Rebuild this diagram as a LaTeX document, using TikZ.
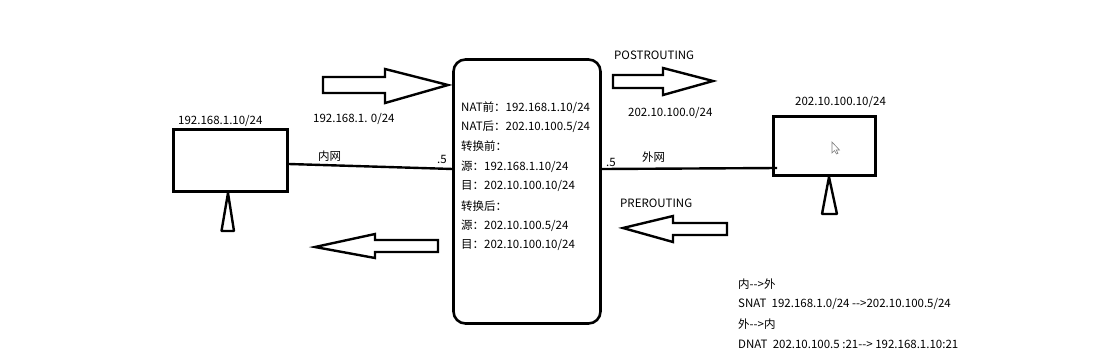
\documentclass[tikz,border=0pt]{standalone}
\usepackage{fontspec}
\setmainfont{Noto Sans CJK SC}
\begin{document}
\begin{tikzpicture}[x=1pt,y=-1pt,
  host/.style={draw, line width=2.6pt, inner sep=0pt},
  txt/.style={anchor=west, inner sep=0pt, font=\fontsize{11.5}{13}\selectfont},
  blk/.style={draw, line width=2.4pt, line join=miter},
  foot/.style={draw, line width=2.4pt, line join=bevel},
  wire/.style={line width=2.4pt}]

\useasboundingbox (0,0) rectangle (1114,349);

% Rechner und Router
\node[host, minimum width=114pt, minimum height=62pt] (pcL) at (230.5,160.5) {};
\node[host, minimum width=102pt, minimum height=59pt] (pcR) at (824.5,146) {};
\node[host, rounded corners=12pt, minimum width=147pt, minimum height=264pt] (rt) at (527,191.5) {};

% Fuesse
\coordinate (ftL) at (228,193);
\coordinate (ftR) at (829,177);
\draw[foot] (ftL) -- (221.5,231) -- (234,231) -- cycle;
\draw[foot] (ftR) -- (822,214) -- (837,214) -- cycle;

% Leitungen
\coordinate (inL) at (289,164);
\coordinate (inR) at (453,169);
\coordinate (outL) at (602,169);
\coordinate (outR) at (777,168);
\draw[wire] (inL) -- (inR);
\draw[wire] (outL) -- (outR);

% Blockpfeile
\draw[blk] (323,77) -- (385,77) -- (385,69) -- (448,85) -- (385,103) -- (385,93) -- (323,93) -- cycle;
\draw[blk] (613,75) -- (663,75) -- (663,68) -- (713,81) -- (663,95) -- (663,88) -- (613,88) -- cycle;
\draw[blk] (438,240) -- (375,240) -- (375,234) -- (315,247) -- (375,258) -- (375,252) -- (438,252) -- cycle;
\draw[blk] (727,223) -- (673,223) -- (673,216) -- (623,228) -- (673,242) -- (673,235) -- (727,235) -- cycle;

% Zeiger
\draw[gray, line width=0.6pt] (832,142) -- (832,153) -- (834.5,150.5) -- (836.5,154) -- (838,153.3) -- (836.2,150) -- (839.5,150) -- cycle;

% Beschriftung
\node[txt] (ipL) at (178,121) {192.168.1.10/24};
\node[txt] (netL) at (313,119) {192.168.1. 0/24};
\node[txt] (lan) at (318,156) {内网};
\node[txt] (dotL) at (437,159) {.5};
\node[txt] (dotR) at (606,162) {.5};
\node[txt] (wan) at (642,157) {外网};
\node[txt] (ipR) at (795,102) {202.10.100.10/24};
\node[txt] (post) at (614,55) {POSTROUTING};
\node[txt] (netR) at (628,113) {202.10.100.0/24};
\node[txt] (pre) at (620,203) {PREROUTING};

\foreach \t [count=\i] in {NAT前：192.168.1.10/24, NAT后：202.10.100.5/24, 转换前：,
    源：192.168.1.10/24, 目：202.10.100.10/24, 转换后：,
    源：202.10.100.5/24, 目：202.10.100.10/24}
  \node[txt] (r\i) at (461,87.5+19.7*\i) {\t};

\foreach \t [count=\i] in {内-{}-{}>外, SNAT\ \ 192.168.1.0/24 -{}-{}>202.10.100.5/24,
    外-{}-{}>内, DNAT\ \ 202.10.100.5 :21-{}-{}> 192.168.1.10:21}
  \node[txt] (n\i) at (738,264+20*\i) {\t};

\end{tikzpicture}
\end{document}
